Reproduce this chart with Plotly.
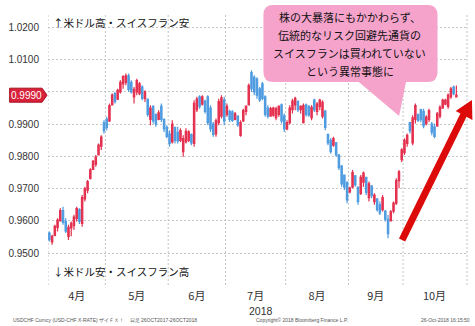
import plotly.graph_objects as go
import pandas as pd

# ---------------- data (USD/CHF daily) ----------------
open_ = [
    .9562, .9535, .9555, .9580, .9600, .9632, .9598, .9552, .9578, .9585, .9608, .9635, .9592, .9668, .9695, .9732, .9760, .9775, .9805, .9832, .9905,
    .9915, .9910, .9960, .9995, .9978, 1.0000, 1.0025, 1.0030, 1.0050, 1.0030, .9985, 1.0000, .9995, 1.0015, .9980, .9978, .9915, .9955, .9930, .9915, .9955, .9915, .9890,
    .9870, .9845, .9890, .9875, .9850, .9815, .9845, .9850, .9868, .9840, .9945, .9985, .9962, .9972, .9985, .9950, .9900, .9870, .9905, .9925, .9975,
    .9930, .9940, .9938, .9915, .9925, .9865, .9910, .9940, .9960, 1.0060, 1.0045, 1.0040, 1.0010, 1.0025, .9985, .9950, .9925, .9928, .9920, .9930, .9960, .9925,
    .9885, .9905, .9945, .9960, .9970, .9945, .9905, .9960, .9955, .9920, .9975, .9940, .9955, .9925, .9940, .9868, .9850, .9835, .9842, .9805, .9770, .9742, .9720,
    .9690, .9705, .9740, .9705, .9685, .9720, .9735, .9672, .9708, .9660, .9668, .9650, .9635, .9630, .9605, .9600, .9630, .9655, .9725, .9790,
    .9812, .9840, .9905, .9842, .9915, .9930, .9945, .9940, .9902, .9915, .9900, .9892, .9895, .9925, .9950, .9962, .9955, .9985, 1.0015, .9985,
]
high = [
    .9567, .9557, .9588, .9608, .9639, .9644, .9608, .9588, .9598, .9619, .9644, .9639, .9680, .9706, .9727, .9763, .9789, .9804, .9840, .9866, .9912,
    .9923, .9964, .9995, 1.0000, 1.0010, 1.0036, 1.0052, 1.0057, 1.0057, 1.0036, 1.0015, 1.0041, 1.0031, 1.0021, 1.0005, .9980, .9959, .9959, .9933, .9943, .9964, .9918, .9897,
    .9881, .9912, .9892, .9892, .9887, .9866, .9887, .9881, .9871, .9974, .9985, .9990, .9990, .9976, .9990, .9959, .9907, .9918, .9979, .9990, .9985,
    .9964, .9945, .9943, .9938, .9928, .9912, .9948, .9959, 1.0026, 1.0067, 1.0052, 1.0046, 1.0015, 1.0031, .9990, .9959, .9954, .9954, .9954, .9959, .9964, .9933,
    .9912, .9959, .9979, .9985, .9974, .9959, .9964, .9964, .9959, .9959, .9979, .9969, .9979, .9974, .9945, .9871, .9856, .9861, .9845, .9804, .9773, .9742, .9722,
    .9706, .9758, .9742, .9706, .9742, .9753, .9737, .9722, .9711, .9686, .9670, .9660, .9680, .9634, .9618, .9634, .9660, .9732, .9758, .9825,
    .9856, .9871, .9907, .9928, .9964, .9933, .9948, .9948, .9928, .9948, .9907, .9902, .9938, .9959, .9979, .9979, .9995, 1.0015, 1.0020, 1.0020,
]
low = [
    .9536, .9526, .9552, .9567, .9598, .9588, .9562, .9541, .9552, .9572, .9598, .9590, .9582, .9660, .9686, .9728, .9758, .9768, .9804, .9820, .9871,
    .9881, .9907, .9959, .9964, .9975, .9995, 1.0010, 1.0021, 1.0000, .9995, .9964, .9990, .9990, .9974, .9969, .9923, .9897, .9902, .9892, .9912, .9907, .9876, .9856,
    .9830, .9840, .9840, .9840, .9845, .9799, .9840, .9845, .9835, .9830, .9938, .9948, .9958, .9933, .9897, .9876, .9861, .9861, .9897, .9918, .9897,
    .9923, .9907, .9907, .9912, .9892, .9861, .9907, .9928, .9959, 1.0000, .9990, .9979, .9969, .9974, .9923, .9918, .9923, .9923, .9912, .9923, .9902, .9876,
    .9881, .9900, .9933, .9943, .9938, .9933, .9902, .9923, .9923, .9912, .9938, .9928, .9943, .9918, .9881, .9835, .9809, .9830, .9799, .9758, .9706, .9696, .9655,
    .9686, .9701, .9706, .9650, .9680, .9706, .9680, .9660, .9670, .9650, .9629, .9618, .9629, .9598, .9546, .9598, .9624, .9649, .9701, .9783,
    .9804, .9830, .9871, .9835, .9902, .9907, .9907, .9887, .9897, .9907, .9866, .9856, .9892, .9918, .9948, .9959, .9948, .9979, .9990, .9985,
]
close = [
    .9542, .9552, .9583, .9602, .9632, .9595, .9568, .9580, .9592, .9612, .9638, .9598, .9672, .9700, .9722, .9758, .9785, .9798, .9835, .9860, .9880,
    .9890, .9958, .9990, .9970, 1.0005, 1.0030, 1.0048, 1.0050, 1.0008, 1.0000, 1.0008, 1.0035, 1.0025, .9980, 1.0000, .9930, .9950, .9910, .9900, .9935, .9915, .9885, .9862,
    .9840, .9900, .9850, .9848, .9880, .9855, .9878, .9876, .9842, .9965, .9978, .9955, .9985, .9940, .9905, .9885, .9868, .9910, .9970, .9982, .9910,
    .9955, .9915, .9912, .9932, .9898, .9905, .9942, .9955, 1.0020, 1.0010, 1.0000, .9990, .9975, .9980, .9930, .9925, .9948, .9950, .9948, .9955, .9910, .9885,
    .9905, .9950, .9972, .9980, .9945, .9955, .9958, .9930, .9928, .9952, .9945, .9962, .9975, .9968, .9890, .9842, .9815, .9855, .9805, .9765, .9715, .9705, .9665,
    .9702, .9750, .9712, .9660, .9735, .9748, .9688, .9715, .9678, .9680, .9635, .9625, .9672, .9605, .9560, .9628, .9655, .9725, .9752, .9820,
    .9850, .9865, .9880, .9920, .9958, .9912, .9915, .9895, .9922, .9942, .9875, .9862, .9932, .9952, .9975, .9975, .9990, 1.0010, .9995, .9990,
]

month_labels = ["4月", "5月", "6月", "7月", "8月", "9月", "10月"]
year_label = "2018"
year_month_index = 3
y_tickvals = [0.95, 0.96, 0.97, 0.98, 0.99, 1.00, 1.01, 1.02]
y_ticktext = ["0.9500", "0.9600", "0.9700", "0.9800", "0.9900", "", "1.0100", "1.0200"]
last_price = 0.9990
last_price_text = "0.9990"
up_note = "↑米ドル高・スイスフラン安"
down_note = "↓米ドル安・スイスフラン高"
callout_lines = ["株の大暴落にもかかわらず、", "伝統的なリスク回避先通貨の",
                 "スイスフランは買われていない", "という異常事態に"]
footer_left = "USDCHF Curncy (USD-CHF X-RATE) ザイＦＸ！    日足 26OCT2017-26OCT2018"
footer_mid = "Copyright© 2018 Bloomberg Finance L.P."
footer_right = "26-Oct-2018 16:15:50"

# ---------------- geometry ----------------
W, H = 475, 326
ML, MR, MT, MB = 41, 8, 13, 41
PW, PH = W - ML - MR, H - MT - MB
YMIN, YMAX = 0.9401, 1.0245
XMIN, XMAX = -0.5, 152.9


def px(xp):
    return (xp - ML) / PW


def py(yp):
    return (H - MB - yp) / PH


def pv(v):
    return (v - YMIN) / (YMAX - YMIN)


dates = pd.bdate_range("2018-04-02", periods=len(close))
cal = pd.bdate_range("2018-04-02", "2018-10-31")
x = list(range(len(close)))

per = cal.to_period("M")
bounds = [i - 0.5 for i in range(len(cal)) if i == 0 or per[i] != per[i - 1]]
bounds.append(len(cal) - 0.5)
centers = [(bounds[k] + bounds[k + 1]) / 2 for k in range(len(bounds) - 1)]

RED = "#e4304f"
BLUE = "#4e9be0"

fig = go.Figure()
fig.add_trace(go.Candlestick(
    x=x, open=open_, high=high, low=low, close=close,
    text=[d.strftime("%Y-%m-%d") for d in dates],
    increasing=dict(line=dict(color=RED, width=1.2), fillcolor=RED),
    decreasing=dict(line=dict(color=BLUE, width=1.2), fillcolor=BLUE),
    whiskerwidth=0, showlegend=False, hoverinfo="text",
))

shapes = []
GRID = "#c4c4c4"
for b in bounds[:-1]:
    shapes.append(dict(type="line", xref="x", yref="paper", x0=b, x1=b, y0=0, y1=1,
                       line=dict(color=GRID, width=1, dash="2px,2px"), layer="below"))
shapes.append(dict(type="line", xref="paper", yref="paper", x0=1, x1=1, y0=0, y1=1,
                   line=dict(color=GRID, width=1, dash="2px,2px"), layer="below"))

# callout bubble
pts = [("M", 270, 5), ("L", 427, 5), ("Q", 437, 5, 437, 15), ("L", 437, 72),
       ("Q", 437, 82, 427, 82), ("L", 405, 82), ("L", 398, 116), ("L", 357, 82),
       ("L", 270, 82), ("Q", 260, 82, 260, 72), ("L", 260, 15), ("Q", 260, 5, 270, 5)]
path = ""
for p in pts:
    cmd = p[0]
    coords = p[1:]
    segs = []
    for k in range(0, len(coords), 2):
        segs.append(f"{px(coords[k]):.5f},{py(coords[k + 1]):.5f}")
    path += cmd + " " + " ".join(segs) + " "
path += "Z"
shapes.append(dict(type="path", xref="paper", yref="paper", path=path,
                   fillcolor="#f6a3cc", line=dict(width=0)))

# red arrow
shapes.append(dict(type="line", xref="paper", yref="paper",
                   x0=px(401), y0=py(240), x1=px(464), y1=py(114),
                   line=dict(color="#dd0a0a", width=7)))
shapes.append(dict(type="path", xref="paper", yref="paper",
                   path=f"M {px(472):.5f},{py(100):.5f} L {px(472.5):.5f},{py(120):.5f} L {px(455.5):.5f},{py(111):.5f} Z",
                   fillcolor="#dd0a0a", line=dict(width=0)))

# last price tag
d = 7 / PH
yc = pv(last_price)
shapes.append(dict(type="path", xref="paper", yref="paper",
                   path=(f"M {px(2):.5f},{yc + d:.5f} L {px(35):.5f},{yc + d:.5f} L {px(40):.5f},{yc:.5f} "
                         f"L {px(35):.5f},{yc - d:.5f} L {px(2):.5f},{yc - d:.5f} Z"),
                   fillcolor="#d8223a", line=dict(color="#a8101f", width=1)))

JP = "Noto Sans CJK JP"
ann = []
ann.append(dict(xref="paper", yref="paper", x=px(19), y=yc, text=last_price_text, showarrow=False,
                font=dict(family="Liberation Sans", size=10, color="white"), xanchor="center", yanchor="middle"))
ann.append(dict(xref="paper", yref="paper", x=px(44), y=py(22), text=up_note, showarrow=False,
                font=dict(family=JP, size=10.5, color="#111"), xanchor="left", yanchor="middle"))
ann.append(dict(xref="paper", yref="paper", x=px(44), y=py(271), text=down_note, showarrow=False,
                font=dict(family=JP, size=10.5, color="#111"), xanchor="left", yanchor="middle"))
for k, line in enumerate(callout_lines):
    ann.append(dict(xref="paper", yref="paper", x=px(348), y=py(17 + 18 * k), text=line, showarrow=False,
                    font=dict(family=JP, size=11, color="#111"), xanchor="center", yanchor="middle"))
# year label under July
ann.append(dict(xref="x", yref="paper", x=centers[year_month_index] + 2, y=py(311), text=year_label,
                showarrow=False, font=dict(family="Liberation Sans", size=10.5, color="#333"),
                xanchor="center", yanchor="middle"))
FOOT = dict(family="Liberation Sans", size=5, color="#555")
ann.append(dict(xref="paper", yref="paper", x=px(3), y=py(320), text=footer_left, showarrow=False,
                font=FOOT, xanchor="left", yanchor="middle"))
ann.append(dict(xref="paper", yref="paper", x=px(250), y=py(320), text=footer_mid, showarrow=False,
                font=FOOT, xanchor="left", yanchor="middle"))
ann.append(dict(xref="paper", yref="paper", x=px(472), y=py(320), text=footer_right, showarrow=False,
                font=FOOT, xanchor="right", yanchor="middle"))

fig.update_layout(
    width=W, height=H,
    margin=dict(l=ML, r=MR, t=MT, b=MB, pad=0),
    paper_bgcolor="white", plot_bgcolor="white",
    shapes=shapes, annotations=ann,
    showlegend=False,
    xaxis=dict(range=[XMIN, XMAX], tickmode="array", tickvals=centers, ticktext=month_labels,
               showgrid=False, zeroline=False, showline=False, ticks="outside", ticklen=1,
               tickcolor="rgba(0,0,0,0)", rangeslider=dict(visible=False),
               tickfont=dict(family=JP, size=11, color="#333")),
    yaxis=dict(range=[YMIN, YMAX], tickmode="array", tickvals=y_tickvals, ticktext=y_ticktext,
               showgrid=True, gridcolor=GRID, griddash="2px,2px", gridwidth=1,
               zeroline=False, showline=False, ticks="outside", ticklen=6,
               tickcolor="rgba(0,0,0,0)",
               tickfont=dict(family="Liberation Sans", size=10, color="#333")),
)

fig.write_html("out.html")
